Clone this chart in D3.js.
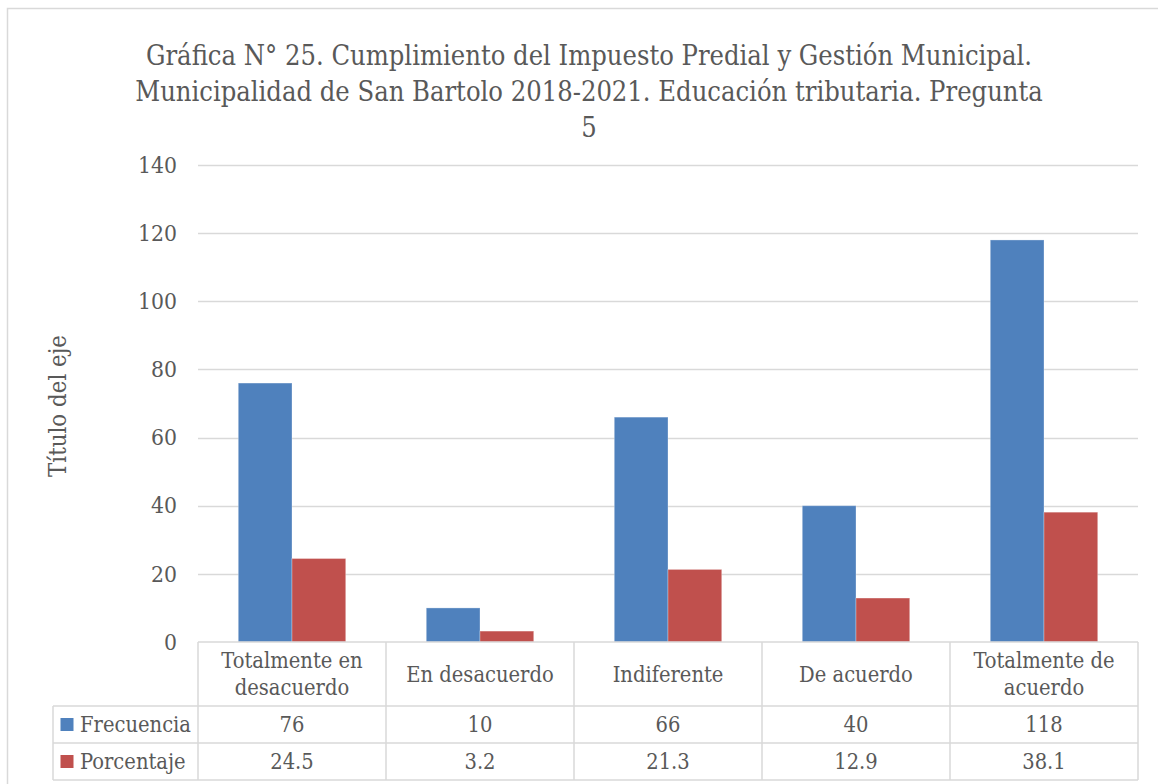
<!DOCTYPE html>
<html>
<head>
<meta charset="utf-8">
<script src="https://cdn.jsdelivr.net/npm/d3@7/dist/d3.min.js"></script>
<style>
  html, body { margin: 0; padding: 0; background: #fff; }
  svg { display: block; }
  text { font-family: "DejaVu Serif Condensed", "DejaVu Serif", serif; font-stretch: condensed; fill: #595959; }
</style>
</head>
<body>
<div id="chart"></div>
<script>
// datos
const categories = ['Totalmente en desacuerdo', 'En desacuerdo', 'Indiferente', 'De acuerdo', 'Totalmente de acuerdo'];
const categoryLines = [['Totalmente en', 'desacuerdo'], ['En desacuerdo'], ['Indiferente'], ['De acuerdo'], ['Totalmente de', 'acuerdo']];
const seriesNames = ['Frecuencia', 'Porcentaje'];
const seriesColors = ['#4F81BD', '#C0504D'];
const frecuencia = [76, 10, 66, 40, 118];
const porcentaje = [24.5, 3.2, 21.3, 12.9, 38.1];
const yTicks = [0, 20, 40, 60, 80, 100, 120, 140];
const titleLines = [
  'Gráfica N° 25. Cumplimiento del Impuesto Predial y Gestión Municipal.',
  'Municipalidad de San Bartolo 2018-2021. Educación tributaria. Pregunta',
  '5'
];
const yTitle = 'Título del eje';

const W = 1158, H = 784;
const plot = { left: 198, right: 1138, top: 165, bottom: 642 };
const table = { legendLeft: 53, rows: [642, 706, 743, 780] };
const grid = '#d9d9d9';

const svg = d3.select('#chart').append('svg')
  .attr('width', W).attr('height', H);

// ajusta el tamaño de fuente de un grupo para que el texto de referencia mida lo mismo que en la imagen
function fitFont(sel, refNode, targetWidth) {
  const fs0 = +d3.select(refNode).attr('font-size');
  const w = refNode.getComputedTextLength();
  sel.attr('font-size', (fs0 * targetWidth / w).toFixed(2));
}

// borde exterior del área del gráfico
svg.append('rect')
  .attr('x', 7.5).attr('y', 8.5)
  .attr('width', 1170).attr('height', 800)
  .attr('fill', '#fff').attr('stroke', grid).attr('stroke-width', 1.5);

// título
const title = svg.append('g');
titleLines.forEach((t, i) => {
  title.append('text')
    .attr('x', 589).attr('y', 65 + i * 36)
    .attr('text-anchor', 'middle')
    .attr('font-size', 24)
    .text(t);
});
fitFont(title.selectAll('text'), title.selectAll('text').nodes()[1], 908);

const x = d3.scaleBand().domain(categories).range([plot.left, plot.right]).padding(0);
const xs = d3.scaleBand().domain(seriesNames).range([0, x.bandwidth()]).paddingInner(0).paddingOuter(0.75);
const y = d3.scaleLinear().domain([0, 140]).range([plot.bottom, plot.top]);

// cuadrícula y eje Y
const yAxis = d3.axisLeft(y).tickValues(yTicks).tickSize(0).tickPadding(21);
const gy = svg.append('g').attr('transform', `translate(${plot.left},0)`).call(yAxis);
gy.select('.domain').remove();
gy.selectAll('text')
  .attr('font-size', 20).attr('fill', '#595959')
  .style('font-family', '"DejaVu Serif Condensed", "DejaVu Serif", serif');
fitFont(gy.selectAll('text'), gy.selectAll('text').nodes()[7], 39);

svg.append('g').selectAll('line')
  .data(yTicks.filter(d => d > 0))
  .join('line')
  .attr('x1', plot.left).attr('x2', plot.right)
  .attr('y1', d => Math.round(y(d)) + 0.5).attr('y2', d => Math.round(y(d)) + 0.5)
  .attr('stroke', grid).attr('stroke-width', 1.5);

// título del eje
const yt = svg.append('text')
  .attr('transform', `translate(58,406) rotate(-90)`)
  .attr('text-anchor', 'middle')
  .attr('dominant-baseline', 'central')
  .attr('font-size', 21)
  .text(yTitle);
fitFont(yt, yt.node(), 142);

// barras
const seriesData = [frecuencia, porcentaje];
const groups = svg.append('g').selectAll('g')
  .data(seriesNames)
  .join('g')
  .attr('fill', (d, i) => seriesColors[i]);

groups.selectAll('rect')
  .data((s, si) => categories.map((c, ci) => ({ c, s, v: seriesData[si][ci] })))
  .join('rect')
  .attr('x', d => x(d.c) + xs(d.s))
  .attr('width', xs.bandwidth())
  .attr('y', d => y(d.v))
  .attr('height', d => y(0) - y(d.v))
  .attr('stroke', '#ffffff').attr('stroke-opacity', 0.3).attr('stroke-width', 1);

// tabla de datos
const tg = svg.append('g');
const tline = (x1, y1, x2, y2) => tg.append('line')
  .attr('x1', x1).attr('y1', y1).attr('x2', x2).attr('y2', y2)
  .attr('stroke', grid).attr('stroke-width', 1.5);

tline(plot.left, table.rows[0], plot.right, table.rows[0]);
table.rows.slice(1).forEach(r => tline(table.legendLeft, r, plot.right, r));
tline(table.legendLeft, table.rows[1], table.legendLeft, table.rows[3]);
const bounds = categories.map(c => x(c)).concat([plot.right]);
bounds.forEach(b => tline(b, table.rows[0], b, table.rows[3]));

const tableTexts = [];

// etiquetas de categorías
categories.forEach((c, i) => {
  const lines = categoryLines[i];
  const cy = (table.rows[0] + table.rows[1]) / 2;
  lines.forEach((l, j) => {
    tableTexts.push(tg.append('text')
      .attr('x', x(c) + x.bandwidth() / 2)
      .attr('y', cy + (j - (lines.length - 1) / 2) * 27)
      .attr('text-anchor', 'middle')
      .attr('dominant-baseline', 'central')
      .attr('font-size', 19)
      .text(l).node());
  });
});

// filas de series
let legendRef = null;
seriesNames.forEach((s, si) => {
  const cy = (table.rows[si + 1] + table.rows[si + 2]) / 2;
  tg.append('rect')
    .attr('x', 60.5).attr('y', cy - 6.5)
    .attr('width', 13).attr('height', 13)
    .attr('fill', seriesColors[si]);
  const lt = tg.append('text')
    .attr('x', 80).attr('y', cy)
    .attr('dominant-baseline', 'central')
    .attr('font-size', 19)
    .text(s);
  tableTexts.push(lt.node());
  if (si === 0) legendRef = lt.node();
  categories.forEach((c, ci) => {
    tableTexts.push(tg.append('text')
      .attr('x', x(c) + x.bandwidth() / 2).attr('y', cy)
      .attr('text-anchor', 'middle')
      .attr('dominant-baseline', 'central')
      .attr('font-size', 19)
      .text(seriesData[si][ci]).node());
  });
});
fitFont(d3.selectAll(tableTexts), legendRef, 111);
</script>
</body>
</html>
